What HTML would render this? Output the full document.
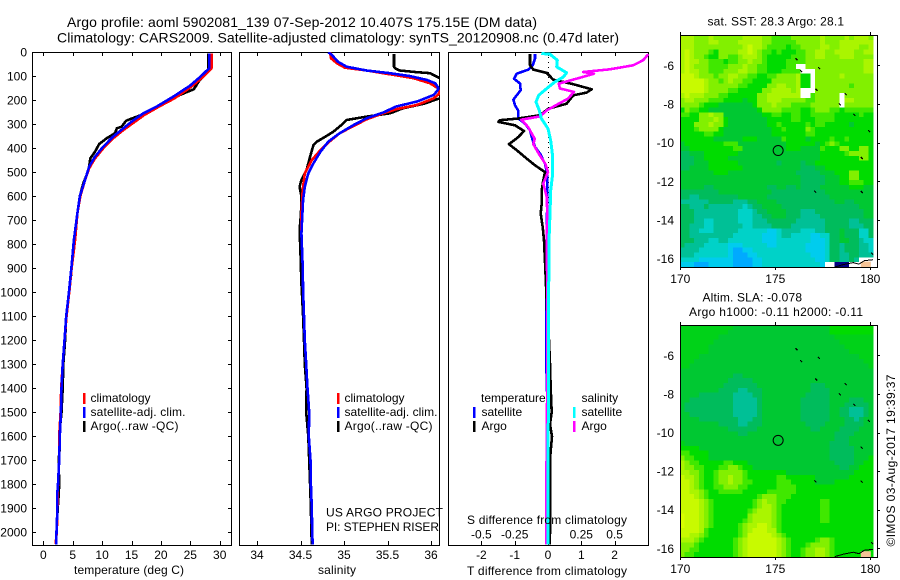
<!DOCTYPE html>
<html>
<head>
<meta charset="utf-8">
<title>Argo profile 5902081_139</title>
<style>
html,body{margin:0;padding:0;background:#fff;width:900px;height:580px;overflow:hidden}
svg{display:block}
text{font-family:"Liberation Sans",sans-serif;font-size:12px;fill:#000}
</style>
</head>
<body>
<svg id="chart" xmlns="http://www.w3.org/2000/svg" width="900" height="580" viewBox="0 0 900 580">
<defs>
<clipPath id="clipT"><rect x="32" y="52" width="200" height="493"/></clipPath>
<clipPath id="clipS"><rect x="239" y="52" width="201" height="493"/></clipPath>
<clipPath id="clipD"><rect x="448" y="52" width="201" height="493"/></clipPath>
<clipPath id="clipM1"><rect x="680" y="35" width="194" height="232"/></clipPath>
<clipPath id="clipM2"><rect x="680" y="325" width="194" height="232"/></clipPath>
</defs>
<g id="layer"></g>
<text x="67" y="27" style="font-size:14px" textLength="470">Argo profile: aoml 5902081_139 07-Sep-2012 10.407S 175.15E (DM data)</text>
<text x="57" y="42.5" style="font-size:14px" textLength="562">Climatology: CARS2009. Satellite-adjusted climatology: synTS_20120908.nc (0.47d later)</text>

<text x="74" y="574" textLength="110">temperature (deg C)</text>
<text x="318" y="574" textLength="38">salinity</text>
<text x="467" y="575" textLength="160">T difference from climatology</text>
<text x="467" y="524" textLength="160">S difference from climatology</text>

<g>
<rect x="83" y="393" width="2.5" height="11" fill="#f00"/>
<text x="90.5" y="402">climatology</text>
<rect x="83" y="407" width="2.5" height="11" fill="#00f"/>
<text x="90.5" y="416" textLength="95">satellite-adj. clim.</text>
<rect x="83" y="421" width="2.5" height="11" fill="#000"/>
<text x="90.5" y="430" textLength="88">Argo(..raw -QC)</text>
</g>
<g>
<rect x="337" y="393" width="2.5" height="11" fill="#f00"/>
<text x="344.5" y="402">climatology</text>
<rect x="337" y="407" width="2.5" height="11" fill="#00f"/>
<text x="344.5" y="416" textLength="93">satellite-adj. clim.</text>
<rect x="337" y="421" width="2.5" height="11" fill="#000"/>
<text x="344.5" y="430" textLength="88">Argo(..raw -QC)</text>
</g>
<text x="326" y="516.5" textLength="117">US ARGO PROJECT</text>
<text x="326" y="531" textLength="113">PI: STEPHEN RISER</text>
<g>
<text x="481" y="402">temperature</text>
<rect x="473" y="407" width="2.5" height="11" fill="#00f"/>
<text x="481.5" y="416">satellite</text>
<rect x="473" y="421" width="2.5" height="11" fill="#000"/>
<text x="481.5" y="430">Argo</text>
<text x="581.5" y="402">salinity</text>
<rect x="573" y="407" width="2.5" height="11" fill="#0ff"/>
<text x="581.5" y="416">satellite</text>
<rect x="573" y="421" width="2.5" height="11" fill="#f0f"/>
<text x="581.5" y="430">Argo</text>
</g>
<text x="707.5" y="25.5" textLength="136.5">sat. SST: 28.3 Argo: 28.1</text>
<text x="702.5" y="301.5" textLength="99.5">Altim. SLA: -0.078</text>
<text x="689" y="316" textLength="174">Argo h1000: -0.11 h2000: -0.11</text>
<text transform="translate(895,546.5) rotate(-90)" textLength="172">©IMOS 03-Aug-2017 19:39:37</text>
</svg>
<script>
// ---- profile data (depth in dbar) ----
const depthTicks = [0,100,200,300,400,500,600,700,800,900,1000,1100,1200,1300,1400,1500,1600,1700,1800,1900,2000];
const tempTicks = [0,5,10,15,20,25,30];
const salTicks = [34,34.5,35,35.5,36];
const salTickLabels = ['34','34.5','35','35.5','36'];
const tDiffTicks = [-2,-1,0,1,2];
const sDiffTicks = [-0.5,-0.25,0,0.25,0.5];
const sDiffTickLabels = ['-0.5','-0.25','0','0.25','0.5'];

const tempArgoDepth = [5,74,119,154,178,205,237,261,271,285,310,317,337,358,382,414,442,490,546,600,670,754,838,935,990,1100,1200,1300,1400,1500,1600,1650,1700,1800,1850,1900,2000,2050];
const tempArgo = [28.1,28.07,26.5,25.6,23.2,21.3,18.7,16.7,15.6,14.1,13.3,12.5,12.2,10.8,9.5,8.8,8.0,7.7,6.8,6.2,5.8,5.4,5.0,4.7,4.4,3.9,3.7,3.4,3.3,3.1,2.7,2.8,2.6,2.7,2.6,2.45,2.25,2.2];
const tempSatDepth = [5,67,104,140,185,226,254,289,317,351,393,435,476,532,600,670,782,893,990,1100,1200,1300,1400,1500,1600,1700,1800,1850,1900,2000,2050];
const tempSat = [28.2,28.2,26.6,24.9,22.1,19.3,17,15,13.6,11.9,10.2,8.8,7.8,7.1,6.2,5.8,5.2,4.8,4.4,3.9,3.6,3.3,3.1,3.0,2.8,2.7,2.5,2.35,2.4,2.25,2.2];
const tempClimDepth = [5,67,108,143,192,226,261,296,324,358,400,442,483,532,600,670,782,893,990,1100,1200,1300,1400,1500,1600,1700,1800,1900,2000,2050];
const tempClim = [28.6,28.6,26.9,25.2,22.3,19.7,17.2,15.2,13.6,11.9,10.2,8.8,7.8,7.1,6.3,5.8,5.4,4.85,4.45,3.95,3.6,3.3,3.05,2.95,2.7,2.7,2.5,2.4,2.3,2.1];

const salArgoDepth = [8,60,67,76,83,87,108,140,192,215,233,254,268,282,303,330,344,372,386,435,490,532,560,600,670,740,838,960,1100,1200,1300,1400,1500,1600,1700,1800,1900,2000,2050];
const salArgo = [35.575,35.575,35.59,35.64,35.84,35.99,36.1,36.5,36.1,35.91,35.68,35.53,35.26,35.03,34.97,34.88,34.82,34.69,34.65,34.61,34.57,34.51,34.49,34.51,34.506,34.49,34.5,34.51,34.53,34.54,34.55,34.57,34.565,34.59,34.6,34.61,34.62,34.625,34.63];
const salSatDepth = [0,11,39,60,76,87,99,115,129,146,157,178,205,226,251,275,303,337,372,414,462,504,560,615,754,893,990,1100,1200,1300,1400,1500,1600,1700,1800,1900,2000,2050];
const salSat = [34.82,34.86,34.93,35.03,35.26,35.53,35.76,35.95,36.05,36.08,36.08,36.03,35.84,35.6,35.45,35.26,35.11,34.95,34.82,34.73,34.65,34.59,34.55,34.53,34.51,34.525,34.53,34.54,34.55,34.565,34.58,34.6,34.595,34.615,34.62,34.63,34.635,34.64];
const salClimDepth = [0,25,46,64,76,94,108,129,150,171,192,219,237,254,279,307,337,376,407,449,504,574,670,754,893,990,1100,1200,1300,1400,1500,1600,1700,1800,1900,2000,2050];
const salClim = [34.84,34.85,34.92,35.01,35.26,35.57,35.8,35.99,36.08,36.1,36.03,35.84,35.6,35.45,35.26,35.11,34.95,34.82,34.73,34.63,34.55,34.525,34.51,34.51,34.525,34.53,34.54,34.55,34.565,34.58,34.6,34.595,34.615,34.62,34.63,34.635,34.64];

const tDiffArgoDepth = [8,54,72,86,114,133,154,168,179,214,235,262,276,283,290,304,328,353,383,408,443,471,499,533,575,630,672,728,783,900,1000,1100,1200,1300,1400,1500,1550,1600,1680,1800,1950,2050];
const tDiffArgo = [-0.54,-0.54,-0.44,-0.04,0.16,0.76,1.31,1.16,0.76,0.56,0.01,-0.24,-0.89,-1.44,-1.49,-0.99,-0.72,-0.89,-1.17,-0.94,-0.64,-0.39,-0.09,-0.14,-0.19,-0.19,-0.22,-0.16,-0.12,-0.08,-0.05,-0.02,0.03,0.06,0.08,0.11,0.06,0.12,0.07,0.07,0.07,0.05];
const tDiffSatDepth = [8,26,54,72,89,110,130,158,197,221,244,276,297,325,367,394,422,464,506,589,783,1000,1300,1450,1600,2050];
const tDiffSat = [-0.39,-0.39,-0.46,-0.59,-0.94,-1.02,-0.84,-0.82,-1.04,-0.99,-0.89,-0.89,-0.69,-0.54,-0.46,-0.39,-0.24,-0.09,-0.02,-0.02,-0.04,-0.05,-0.05,-0.02,0,0];
const sDiffArgoDepth = [8,33,54,71,82,89,106,131,151,165,193,214,242,267,281,311,360,383,422,464,499,547,603,672,783,1000,1400,1500,1800,2050];
const sDiffArgo = [0.7525,0.715,0.64,0.465,0.265,0.345,0.24,0.08,0.09,0.195,0.15,0.08,-0.01,-0.06,-0.2,-0.15,-0.1,-0.11,-0.07,-0.02,0,-0.035,-0.01,-0.005,-0.01,-0.005,-0.005,-0.008,-0.012,-0.012];
const sDiffSatDepth = [5,8,33,61,85,103,124,151,179,207,242,276,318,367,436,506,575,672,783,1000,1400,1700,2050];
const sDiffSat = [-0.05,0.015,0.07,0.065,0.14,0.115,0.05,-0.01,-0.07,-0.09,-0.065,-0.05,0,0.02,0.035,0.035,0.02,0.015,0.0075,0.005,0.004,0,0];

// ---- map data ----
const lonTicks = [170,175,180];
const latTicks = [-6,-8,-10,-12,-14,-16];
const argoLon = 175.15;
const argoLat = -10.407;
const islandLon = [176.12,176.35,177.3,177.16,178.7,178.4,179.16,179.93,179.55,177.1,179.55,180.1];
const islandLat = [-5.69,-6.3,-6.14,-7.26,-7.49,-8.02,-8.56,-9.4,-10.79,-12.53,-12.55,-15.74];
const coastLon = [178.13,178.6,179.1,179.4,179.7,180.15];
const coastLat = [-16.43,-16.3,-16.2,-16.28,-16.1,-16.05];

// level codes: 0 blue ... a/b yellow-green; m between 5 and 6; w = no data; D = land-mask blue
const levelColours = {'0':'#00aaff','1':'#00ccee','2':'#00d2c8','3':'#00c096','4':'#00bc5c','5':'#00c832','m':'#00d218','6':'#00dc00','7':'#40e800','8':'#82f000','9':'#aaf500','a':'#c8fa00','b':'#d7ff00','w':'#ffffff','D':'#000082'};

const sstLevels = [
"9998889888 8889999887 7778888889 8888989998",
"9998889988 8899999887 7777888889 8889999999",
"9998888888 8889a99877 7767788889 9889999889",
"9a98887688 8899a98776 7666778899 8899998899",
"9a98876688 7789998766 6667778899 8889998888",
"9a99887776 7788988766 6677778888 8888888899",
"9a98887777 8889887766 6677ww8888 8888888899",
"9a99887778 8899887766 67777www88 8888888899",
"aaa9888788 9988776677 8888966w88 8889888888",
"aaaaa98878 9887766668 8888966w88 8888888888",
"aaaaa98888 8877666688 9988966w88 8888878888",
"aaaaa98888 7766666889 99989www88 8888888888",
"9a99988877 6666668899 99999ww788 888w888888",
"8998887776 6665668899 9888887788 888w998888",
"8888766655 5555568889 8887777888 888w888888",
"6877665555 5555556888 8777766788 8776777777",
"7766889885 5555555667 7667766777 7766666766",
"6666888986 5555555566 6667766677 7766666666",
"6668889886 5555555566 7666667677 6666656666",
"6667888865 5555555556 6766668766 6666666666",
"6666677665 5555555556 6666667766 6666666666",
"6666666555 5556665555 5766665666 6766766666",
"5666666667 7755555555 5566666656 7876666666",
"5566666666 6775555555 5566655557 6668866886",
"4455566666 6655555555 5555555556 6666788886",
"4445566666 5555555555 5555555556 6666666886",
"4445556666 6655555555 4555545566 6666666666",
"4455556666 6665555555 5555544455 6666666666",
"5555555666 5555555555 5555444445 5566688666",
"5555555555 5555555555 5555544444 5556688666",
"5555555555 5555555555 5555544444 5556677766",
"5555544555 5555555544 5544544445 5555566655",
"4444444455 5555555554 4444444444 5555555555",
"4433444444 4455555544 4444444444 4555555555",
"3333334444 4333445555 4444444444 4455445555",
"4433343333 3332344555 5444444444 4444444555",
"4443333333 3322234455 5544433344 4444444455",
"4443333333 3322233445 5544433334 4444444455",
"4443322333 3322233344 4444333333 4444433444",
"4433322333 3332233334 4443333333 4444433344",
"4433222333 3322222211 2333322233 4445444224",
"4433333333 3222222111 2332222112 2445444224",
"4443332233 2222222111 2222222111 2445544322",
"4333322222 1112222211 2222221111 2443444332",
"3333222222 1001122222 2222221111 2443444332",
"3332222222 1000112222 2222222111 2443344333",
"2222111111 1000011222 2222222211 2443343www",
"1110001111 1000011222 2222222221 wwDDDwwwww"
];

const slaLevels = [
"mmmmmmmmmm m555555555 5555555555 5666666666",
"mmmmmmmmmm 5555555555 5555555555 5666666666",
"mmmmmmmm55 5555555555 5555555555 55mmmmmmmm",
"mmmmmmm555 5555555555 5555555555 555mmmmmmm",
"mmmmmm5555 5555555555 5555555555 5555mmmmmm",
"mmmmmm5555 5555555555 5555555555 55555mmmmm",
"mmmm555555 5555555555 5555555555 5555555mmm",
"mmm5555555 5555555555 5555555555 55555555mm",
"mm55555555 5555555555 5555555555 555555555m",
"5555555555 5555555555 5555555555 5555555555",
"5555555555 5445555555 5555555555 5555555555",
"5555555555 4444455555 5555555555 5555555555",
"5555555554 4444445555 5555555444 5555555555",
"5555555544 4433444555 5555555444 4555555555",
"5555444444 4333344555 5555554444 4555555555",
"5544444444 4333334555 5555544444 4555544455",
"5444444444 4333334555 5555544444 4555444445",
"5444444444 4333334555 5555544444 4554433345",
"5544444444 4333334555 5555544444 4554433345",
"5555444444 4433344555 5555544444 4555443455",
"5555555544 4433444555 5555554444 5555444455",
"5555555555 4444445555 5555555445 5554444555",
"5555555555 5544555555 5555555555 5544445555",
"5555555555 5555555555 5555555555 5544455555",
"m555555555 5555555555 5555555555 5444455555",
"6666555555 5555555555 5555555555 5444445555",
"7766665555 5555555555 5555555555 5444445555",
"8776665555 5555555555 5555555555 5444445556",
"9877666667 7666555555 5555555555 5544445566",
"9887766677 8876655555 5555555555 5554455666",
"9988766788 8887666666 6655555555 5555556666",
"a998766788 9887666666 7766666655 5555566666",
"aa98766788 9887766666 7776666655 5566666666",
"aa98766778 8877666666 7777666666 6666666666",
"aa99876677 7776666677 7777666666 6666666666",
"aaa9876666 6666667888 7776666666 6666666666",
"aaaa987666 6666678988 7766666667 7666666666",
"aaaa987666 6666678998 7666666667 7666666666",
"aaaa987666 6666789998 7666666667 7666666666",
"baaa987666 6666899998 7666666667 7666666666",
"baaa987666 6667899998 7666666667 7666666666",
"baaa987666 667899aa98 7666666666 6666666666",
"aaaa976666 66789aaa99 7666666666 6666666666",
"aa99876666 6678aaaaa9 8766666666 6666666666",
"9998766666 6789aaaaaa 9876666678 8766666666",
"8887666666 6789aaaaaa 9876667888 8766666666",
"8877666666 6789aaaaaa 9876678899 8766666666",
"8776666666 6789aaaaaa 9876678899 8766666666"
];

// ---- helpers ----
const NS = 'http://www.w3.org/2000/svg';
const root = document.getElementById('layer');
function make(tag, attrs, parent) {
  const el = document.createElementNS(NS, tag);
  for (const k in attrs) el.setAttribute(k, attrs[k]);
  (parent || root).appendChild(el);
  return el;
}
function label(str, x, y, anchor, name, parent) {
  const el = make('text', {x: x, y: y, 'text-anchor': anchor}, parent);
  
  
  el.textContent = str;
  return el;
}
function group(name, parent) {
  const el = make('g', {}, parent);
  
  
  return el;
}

// ---- axis functions ----
const yDepth = d => 52.3 + 0.24 * d;
const xTemp = t => 43.3 + 5.88 * t;
const xSal = s => 257 + 87 * (s - 34);
const xTDiff = t => 548 + 33.3 * t;
const xSDiff = s => 548 + 133.2 * s;
const xLon = lon => 680.3 + 19 * (lon - 170);
const yLat1 = lat => 65.3 + 19.34 * (-6 - lat);
const yLat2 = lat => 355.3 + 19.3 * (-6 - lat);

function series(depths, values, xf, colour, clip, name, parent, width) {
  const pts = depths.map((d, i) => xf(values[i]).toFixed(1) + ',' + yDepth(d).toFixed(1)).join(' ');
  const el = make('polyline', {points: pts, fill: 'none', stroke: colour, 'stroke-width': width || 2.6, 'clip-path': 'url(#' + clip + ')', 'shape-rendering': 'crispEdges', 'stroke-linejoin': 'round'}, parent);
  
  
}
function tick(x1, y1, x2, y2, parent) {
  const el = make('line', {x1: x1, y1: y1, x2: x2, y2: y2, stroke: '#000', 'stroke-width': 1, 'shape-rendering': 'crispEdges'}, parent);
  
  
}
function panelFrame(x, w, name) {
  const g = group(name);
  const box = make('rect', {x: x + 0.5, y: 52.5, width: w, height: 493, fill: 'none', stroke: '#000', 'stroke-width': 1, 'shape-rendering': 'crispEdges'}, g);
  
  
  return g;
}

// ---- temperature panel ----
const pT = panelFrame(32, 199, 'temperature-panel');
depthTicks.forEach(d => {
  const y = Math.round(yDepth(d)) + 0.5;
  tick(32, y, 36, y, pT);
  tick(228, y, 232, y, pT);
  label(String(d), 27, yDepth(d) + 4, 'end', 'depth-tick-label', pT);
});
tempTicks.forEach(t => {
  const x = Math.round(xTemp(t)) + 0.5;
  tick(x, 52, x, 56, pT);
  tick(x, 541, x, 545, pT);
  label(String(t), xTemp(t), 559, 'middle', 'temperature-tick-label', pT);
});
series(tempArgoDepth, tempArgo, xTemp, '#000', 'clipT', 'temperature-argo-line', pT);
series(tempClimDepth, tempClim, xTemp, '#f00', 'clipT', 'temperature-climatology-line', pT);
series(tempSatDepth, tempSat, xTemp, '#00f', 'clipT', 'temperature-satellite-line', pT);

// ---- salinity panel ----
const pS = panelFrame(239, 200, 'salinity-panel');
salTicks.forEach((s, i) => {
  const x = Math.round(xSal(s)) + 0.5;
  tick(x, 52, x, 56, pS);
  tick(x, 541, x, 545, pS);
  label(salTickLabels[i], xSal(s), 559, 'middle', 'salinity-tick-label', pS);
});
series(salArgoDepth, salArgo, xSal, '#000', 'clipS', 'salinity-argo-line', pS);
series(salClimDepth, salClim, xSal, '#f00', 'clipS', 'salinity-climatology-line', pS);
series(salSatDepth, salSat, xSal, '#00f', 'clipS', 'salinity-satellite-line', pS);

// ---- difference panel ----
const pD = panelFrame(448, 200, 'difference-panel');
tDiffTicks.forEach(t => {
  const x = Math.round(xTDiff(t)) + 0.5;
  tick(x, 52, x, 56, pD);
  tick(x, 541, x, 545, pD);
  label(t === 0 ? '0' : String(t), xTDiff(t), 559, 'middle', 't-difference-tick-label', pD);
});
sDiffTicks.forEach((s, i) => {
  label(sDiffTickLabels[i], xSDiff(s), 538.5, 'middle', 's-difference-tick-label', pD);
});
const zeroLine = make('line', {x1: 548.5, y1: 52, x2: 548.5, y2: 545, stroke: '#000', 'stroke-width': 1, 'stroke-dasharray': '1 4', 'shape-rendering': 'crispEdges'}, pD);


series(tDiffSatDepth, tDiffSat, xTDiff, '#00f', 'clipD', 't-difference-satellite-line', pD);
series(tDiffArgoDepth, tDiffArgo, xTDiff, '#000', 'clipD', 't-difference-argo-line', pD);
series(sDiffArgoDepth, sDiffArgo, xSDiff, '#f0f', 'clipD', 's-difference-argo-line', pD);
series(sDiffSatDepth, sDiffSat, xSDiff, '#0ff', 'clipD', 's-difference-satellite-line', pD, 3);

// ---- maps ----
function drawMap(levels, yf, top, bottom, clip, name, labelY) {
  const g = group(name);
  const cellW = 193.6 / 40;
  const cellH = (bottom - top) / 48;
  levels.forEach((row, r) => {
    const codes = row.replace(/ /g, '');
    for (let c = 0; c < codes.length; c++) {
      const cell = make('rect', {x: (679.7 + c * cellW).toFixed(2), y: (top + r * cellH).toFixed(2), width: (cellW + 0.4).toFixed(2), height: (cellH + 0.4).toFixed(2), fill: levelColours[codes[c]] || '#fff', 'shape-rendering': 'crispEdges', 'clip-path': 'url(#' + clip + ')'}, g);
      
      
    }
  });
  const land = make('rect', {x: xLon(179.5), y: yf(-16.15), width: 10, height: 8, fill: '#f5c396', 'clip-path': 'url(#' + clip + ')'}, g);
  
  
  const coast = make('polyline', {points: coastLon.map((lon, i) => xLon(lon).toFixed(1) + ',' + yf(coastLat[i]).toFixed(1)).join(' '), fill: 'none', stroke: '#000', 'stroke-width': 1, 'shape-rendering': 'crispEdges', 'clip-path': 'url(#' + clip + ')'}, g);
  
  
  islandLon.forEach((lon, i) => {
    const isl = make('line', {x1: xLon(lon) - 1, y1: yf(islandLat[i]) - 1, x2: xLon(lon) + 1, y2: yf(islandLat[i]) + 1, stroke: '#000', 'stroke-width': 1.2, 'shape-rendering': 'crispEdges'}, g);
    
    
  });
  const frame = make('rect', {x: 680.5, y: top + 0.5, width: 197, height: bottom - top, fill: 'none', stroke: '#000', 'stroke-width': 1, 'shape-rendering': 'crispEdges'}, g);
  
  
  lonTicks.forEach(lon => {
    const x = Math.round(xLon(lon)) + 0.5;
    tick(x, top - 3, x, top, g);
    tick(x, bottom, x, bottom + 3, g);
    label(String(lon), xLon(lon), labelY, 'middle', 'longitude-tick-label', g);
  });
  latTicks.forEach(lat => {
    const y = Math.round(yf(lat)) + 0.5;
    tick(877, y, 880, y, g);
    label(String(lat), 674, yf(lat) + 4.5, 'end', 'latitude-tick-label', g);
  });
  const ring = make('circle', {cx: xLon(argoLon), cy: yf(argoLat), r: 5, fill: 'none', stroke: '#000', 'stroke-width': 1}, g);
  
  
}
drawMap(sstLevels, yLat1, 35, 267, 'clipM1', 'sst-map', 283);
drawMap(slaLevels, yLat2, 325, 557, 'clipM2', 'sla-map', 573);
</script>
</body>
</html>
